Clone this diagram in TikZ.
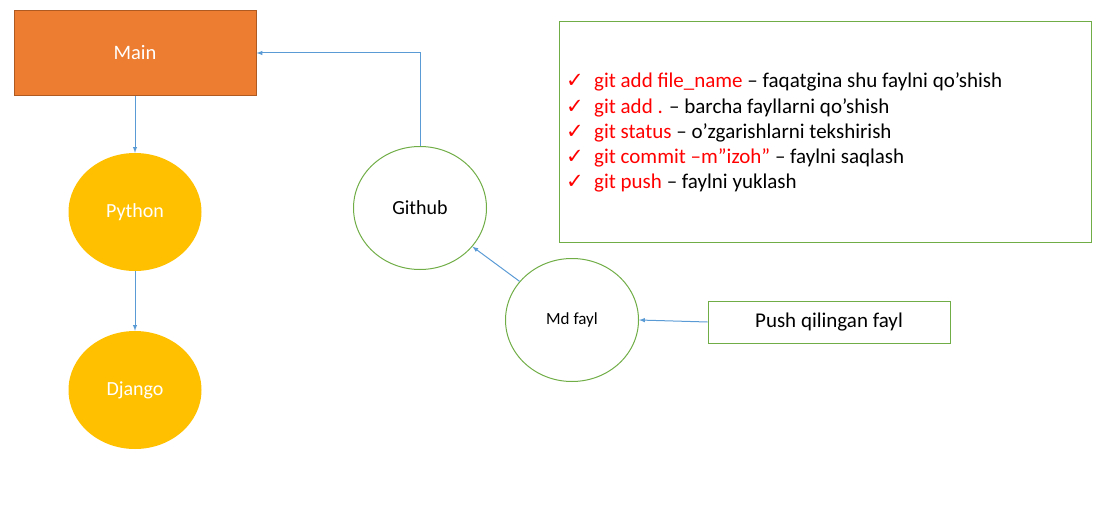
\documentclass[tikz,border=0pt]{standalone}
\usepackage{fontspec}
\setmainfont{Carlito}
\newfontfamily\symfont{DejaVu Sans}
\usepackage{tikz}
\usetikzlibrary{shapes.geometric}
\usetikzlibrary{positioning}
\usepackage{xcolor}
\definecolor{mainorange}{HTML}{ED7D31}
\definecolor{mainedge}{HTML}{AE5A21}
\definecolor{gold}{HTML}{FFC000}
\definecolor{leaf}{HTML}{70AD47}
\definecolor{arrowblue}{HTML}{5B9BD5}
\tikzset{
  bubble/.style={ellipse, fill=gold, text=white, minimum width=133pt, minimum height=118pt, font=\fontsize{20}{24}\selectfont},
  ring/.style={ellipse, draw=leaf, line width=1pt, minimum width=133pt, minimum height=123pt},
  arr/.style={-latex, arrowblue, line width=1pt},
}
\begin{document}
\begin{tikzpicture}[x=1pt,y=-1pt]
\useasboundingbox (0,0) rectangle (1100,527);
\node[draw=mainedge, line width=1pt, fill=mainorange, text=white, minimum width=242pt, minimum height=84pt, font=\fontsize{20.5}{24}\selectfont] (main) at (135,53) {Main};
\node[bubble] (python) at (135,212) {Python};
\node[bubble] (django) at (135,390) {Django};
\node[ring, font=\fontsize{20}{24}\selectfont] (github) at (420,208) {Github};
\node[ring, font=\fontsize{17}{20}\selectfont] (md) at (572,320) {Md fayl};
\node[draw=leaf, line width=1pt, minimum width=242pt, minimum height=42pt, font=\fontsize{21}{25}\selectfont] (push) at (829,322) {Push qilingan fayl};
\node[draw=leaf, line width=1pt, minimum width=532pt, minimum height=220pt] (cmds) at (825,132) {};
\foreach \cmd/\desc [count=\i] in {git add file\_name/faqatgina shu faylni qo’shish,
    git add ./barcha fayllarni qo’shish,
    git status/o’zgarishlarni tekshirish,
    git commit –m”izoh”/faylni saqlash,
    git push/faylni yuklash}{
  \node[anchor=base, text=red, inner sep=0pt, font=\symfont\fontsize{21}{24}\selectfont] (chk\i) at (575,63+25*\i) {✓};
  \node[anchor=base west, inner sep=0pt, font=\fontsize{21}{25}\selectfont] (line\i) at (594,63+25*\i) {\textcolor{red}{\cmd} – \desc};
}
% connectors
\draw[arr] (main) -- (python);
\draw[arr] (python) -- (django);
\draw[arr] (github.north) |- (main.east);
\draw[arr] (md) -- (github);
\draw[arr] (push.west) -- (md.east);
\end{tikzpicture}
\end{document}
